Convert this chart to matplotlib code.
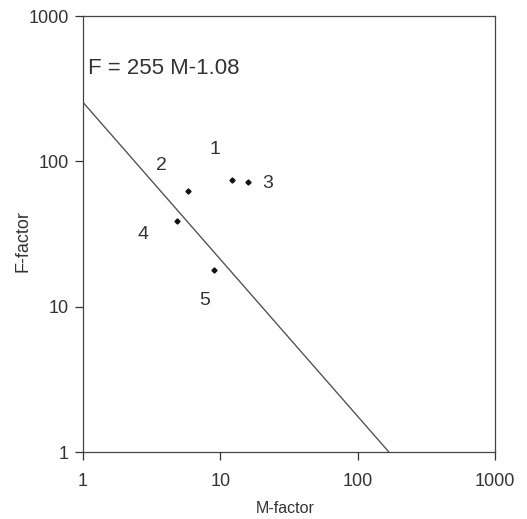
import matplotlib
matplotlib.use("Agg")
import matplotlib.pyplot as plt
import numpy as np
from matplotlib.ticker import FixedLocator, FixedFormatter, NullLocator

plt.rcParams["font.family"] = ["Liberation Sans", "DejaVu Sans"]

# site values
site_labels = ["1", "2", "3", "4", "5"]
m_factor = [12.1, 5.8, 15.9, 4.8, 9.0]
f_factor = [74, 63, 72, 39, 18]

# fitted power law F = a * M^b
coef_a = 255
coef_b = -1.08
ticks = [1, 10, 100, 1000]
tick_text = ["1", "10", "100", "1000"]

ink = "#333333"

fig = plt.figure(figsize=(5.27, 5.19), dpi=100)
ax = fig.add_axes([0.1575, 0.129, 0.7815, 0.84])

# trend line from M=1 to where it hits F=1
m_end = (1 / coef_a) ** (1 / coef_b)
m_line = np.array([1, m_end])
ax.plot(m_line, coef_a * m_line ** coef_b, color="#555555", lw=1.0)

ax.plot(m_factor, f_factor, linestyle="none", marker="D", ms=2.6, color="#111111")

# label offsets (in points) so numbers sit beside their dots
offsets = {"1": (-12, 22), "2": (-19, 18), "3": (14, -1), "4": (-24, -10), "5": (-7, -22)}
for lab, m, f in zip(site_labels, m_factor, f_factor):
    ax.annotate(lab, (m, f), xytext=offsets[lab], textcoords="offset points",
                ha="center", va="center", fontsize=14, color=ink)

ax.text(1.09, 435, f"F = {coef_a} M{coef_b}", fontsize=16, color=ink,
        ha="left", va="center")

ax.set_xscale("log")
ax.set_yscale("log")
ax.set_xlim(1, 1000)
ax.set_ylim(1, 1000)
for axis in (ax.xaxis, ax.yaxis):
    axis.set_major_locator(FixedLocator(ticks))
    axis.set_major_formatter(FixedFormatter(tick_text))
    axis.set_minor_locator(NullLocator())

ax.tick_params(direction="out", length=6, width=0.9, colors=ink, labelsize=13)
ax.tick_params(axis="x", pad=9)
ax.tick_params(axis="y", pad=4)
for sp in ax.spines.values():
    sp.set_color("#444444")
    sp.set_linewidth(0.9)

ax.set_xlabel("M-factor", fontsize=11.5, color=ink)
ax.set_ylabel("F-factor", fontsize=13, color=ink)
ax.xaxis.set_label_coords(0.49, -0.113)
ax.yaxis.set_label_coords(-0.124, 0.484)

fig.savefig("out.png", dpi=100)
